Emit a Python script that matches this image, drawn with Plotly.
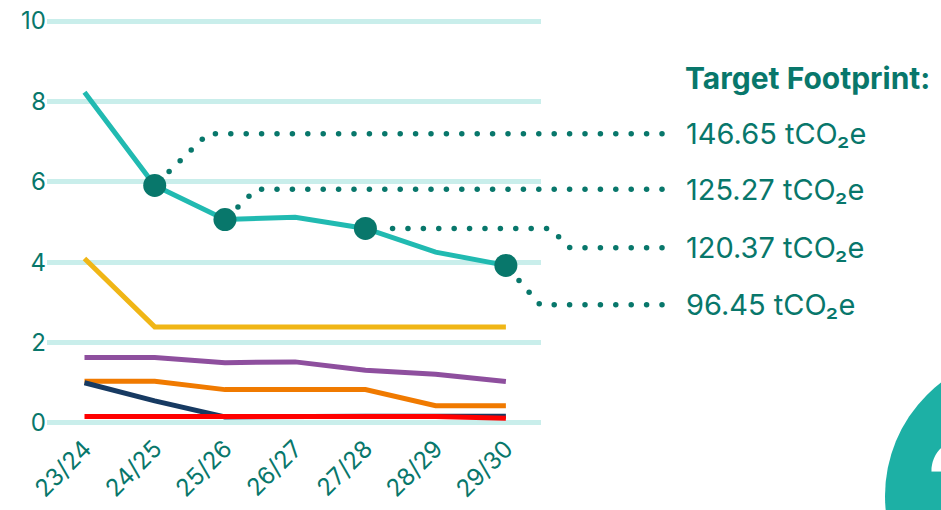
import numpy as np
import plotly.graph_objects as go

# ---------------- data ----------------
years = ["23/24", "24/25", "25/26", "26/27", "27/28", "28/29", "29/30"]
total = [8.23, 5.91, 5.06, 5.12, 4.84, 4.25, 3.92]
yellow = [4.09, 2.39, 2.39, 2.39, 2.39, 2.39, 2.39]
purple = [1.63, 1.63, 1.50, 1.52, 1.31, 1.21, 1.03]
orange = [1.04, 1.04, 0.83, 0.83, 0.83, 0.43, 0.43]
navy = [1.00, 0.55, 0.15, 0.17, 0.17, 0.17, 0.17]
red = [0.16, 0.16, 0.16, 0.16, 0.16, 0.16, 0.12]
target_idx = [1, 2, 4, 6]
target_labels = ["146.65 tCO₂e", "125.27 tCO₂e", "120.37 tCO₂e", "96.45 tCO₂e"]
y_ticks = [0, 2, 4, 6, 8, 10]

# ---------------- style / layout constants ----------------
FONT = "Inter"
DARK = "#08776b"
TEAL = "#21bab1"
GRID = "#c9eeeb"
W, H = 941, 510
ML, MT, MB = 47, 15, 81
PR = 541                      # right edge of main plot area (px)
XR = [-0.534, 6.5]
YR = [-0.15, 10.15]
PW = PR - ML
PH = H - MT - MB
sx = PW / (XR[1] - XR[0])
sy = PH / (YR[1] - YR[0])


def to_px(x, y):
    return ML + (x - XR[0]) * sx, MT + (YR[1] - y) * sy


# leader line geometry (pixel positions of elbows / label rows)
label_py = [133.7, 189.3, 247.7, 304.7]
end_px = 662
label_px = 684
elbows = [
    [(208, 133.7)],
    [(256, 189.3)],
    [(550, None), (570, 247.7)],
    [(540, 304.7)],
]

dot_x, dot_y = [], []
for k, idx in enumerate(target_idx):
    sxp, syp = to_px(idx, total[idx])
    pts = [(sxp, syp)]
    for ex, ey in elbows[k]:
        pts.append((ex, syp if ey is None else ey))
    pts.append((end_px, label_py[k]))
    pts = np.array(pts, dtype=float)
    seg = np.diff(pts, axis=0)
    seglen = np.hypot(seg[:, 0], seg[:, 1])
    cum = np.concatenate([[0], np.cumsum(seglen)])
    step = 15.4
    n = int(cum[-1] // step)
    dists = cum[-1] - np.arange(n + 1) * step
    dists = dists[dists > 12]
    for d in dists:
        i = min(np.searchsorted(cum, d, side="right") - 1, len(seg) - 1)
        t = (d - cum[i]) / seglen[i]
        px_, py_ = pts[i] + t * seg[i]
        dot_x.append(px_)
        dot_y.append(py_)

xs = list(range(len(years)))
fig = go.Figure()

fig.add_trace(go.Scatter(x=dot_x, y=dot_y, xaxis="x2", yaxis="y2", mode="markers",
                         cliponaxis=False, marker=dict(size=5.5, color=DARK), hoverinfo="skip"))

for vals, col in [(yellow, "#f0b616"), (purple, "#8e4f9e"), (orange, "#f07a00"),
                  (navy, "#173a62"), (red, "#ff0000"), (total, TEAL)]:
    fig.add_trace(go.Scatter(x=xs, y=vals, mode="lines", cliponaxis=False,
                             line=dict(color=col, width=5)))

fig.add_trace(go.Scatter(x=target_idx, y=[total[i] for i in target_idx], mode="markers",
                         cliponaxis=False, marker=dict(size=23, color=DARK)))

annotations = [dict(x=label_px - 1, y=78, xref="x2", yref="y2", text="<b>Target Footprint:</b>",
                    showarrow=False, xanchor="left", yanchor="middle",
                    font=dict(family=FONT, size=30, color=DARK))]
for k, lab in enumerate(target_labels):
    annotations.append(dict(x=label_px, y=label_py[k], xref="x2", yref="y2", text=lab,
                            showarrow=False, xanchor="left", yanchor="middle",
                            font=dict(family=FONT, size=29, color=DARK)))


def paper_x(px):
    return (px - ML) / (W - ML)


def paper_y(py):
    return (MT + PH - py) / PH


annotations.append(dict(x=paper_x(922), y=paper_y(404), xref="paper", yref="paper",
                        text="<b>2</b>", showarrow=False, xanchor="left", yanchor="top",
                        font=dict(family=FONT, size=140, color="white")))

fig.update_layout(
    width=W, height=H,
    margin=dict(l=ML, r=0, t=MT, b=MB, pad=0),
    paper_bgcolor="white", plot_bgcolor="rgba(0,0,0,0)",
    showlegend=False,
    font=dict(family=FONT, color=DARK),
    annotations=annotations,
    shapes=[dict(type="circle", xref="paper", yref="paper",
                 x0=paper_x(885), x1=paper_x(1171), y0=paper_y(353), y1=paper_y(639),
                 fillcolor="#1db0a5", line=dict(width=0), layer="below")],
    xaxis=dict(domain=[0, PW / (W - ML)], range=XR, tickvals=xs, ticktext=years,
               tickangle=-45, showgrid=False, zeroline=False, showline=False, ticks="",
               tickfont=dict(family=FONT, size=24, color=DARK)),
    yaxis=dict(range=YR, tickvals=y_ticks, showgrid=True, gridcolor=GRID, gridwidth=5,
               zeroline=False, showline=False, ticks="",
               tickfont=dict(family=FONT, size=24, color=DARK)),
    xaxis2=dict(domain=[0, 1], range=[ML, W], anchor="y2", visible=False),
    yaxis2=dict(domain=[0, 1], range=[MT + PH, MT], anchor="x2", visible=False),
)

fig.write_html("out.html", config={"displayModeBar": False},
               post_script="document.body.style.margin='0';")
